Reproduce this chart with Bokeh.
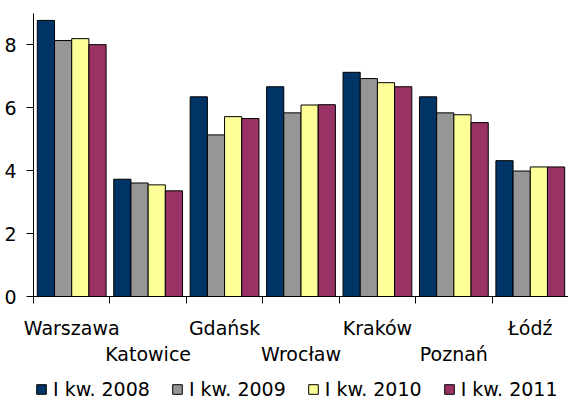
from bokeh.plotting import figure
from bokeh.layouts import column
from bokeh.models import (ColumnDataSource, Range1d, LinearAxis, FixedTicker,
                          Legend, LegendItem)
from bokeh.transform import dodge
from bokeh.embed import file_html
from bokeh.resources import INLINE

cities = ["Warszawa", "Katowice", "Gdańsk", "Wrocław", "Kraków", "Poznań", "Łódź"]
series = ["I kw. 2008", "I kw. 2009", "I kw. 2010", "I kw. 2011"]
v2008 = [8.78, 3.73, 6.35, 6.67, 7.13, 6.35, 4.32]
v2009 = [8.14, 3.61, 5.14, 5.84, 6.93, 5.84, 3.99]
v2010 = [8.20, 3.55, 5.72, 6.09, 6.80, 5.78, 4.12]
v2011 = [8.01, 3.36, 5.66, 6.10, 6.67, 5.53, 4.12]
y_ticks = [0, 2, 4, 6, 8]
colors = ["#003366", "#969696", "#FFFF99", "#993366"]

FONT = "DejaVu Sans"
FS = "19px"

n = len(cities)
pos = [i + 0.5 for i in range(n)]
src = ColumnDataSource(dict(x=pos, a=v2008, b=v2009, c=v2010, d=v2011))

p = figure(width=568, height=367, x_range=Range1d(0, n), y_range=Range1d(0, 9),
           output_backend="svg", toolbar_location=None, x_axis_type=None,
           min_border_left=33, min_border_right=0, min_border_top=13,
           min_border_bottom=0)
p.outline_line_color = None
p.xgrid.visible = False
p.ygrid.visible = False

# y axis
yax = p.yaxis[0]
yax.ticker = FixedTicker(ticks=y_ticks, minor_ticks=[])
yax.major_tick_out = 7
yax.major_tick_in = 0
yax.minor_tick_out = 0
yax.minor_tick_in = 0
yax.axis_line_color = "black"
yax.major_tick_line_color = "black"
yax.major_label_text_font = FONT
yax.major_label_text_font_size = FS
yax.major_label_text_color = "black"
yax.major_label_standoff = 10

# bars
bw = 0.225
offs = [-0.3375, -0.1125, 0.1125, 0.3375]
for col, off, c in zip(["a", "b", "c", "d"], offs, colors):
    p.vbar(x=dodge("x", off, range=p.x_range), top=col, bottom=0, width=bw,
           source=src, fill_color=c, line_color="black", line_width=1)

# x axis: row 1 labels + boundary ticks
odd_idx = list(range(0, n, 2))
even_idx = list(range(1, n, 2))
axA = LinearAxis(ticker=FixedTicker(ticks=[pos[i] for i in odd_idx],
                                    minor_ticks=list(range(n + 1))))
axA.major_label_overrides = {pos[i]: cities[i] for i in odd_idx}
axA.major_tick_out = 0
axA.major_tick_in = 0
axA.minor_tick_out = 7
axA.minor_tick_in = 0
axA.minor_tick_line_color = "black"
axA.axis_line_color = "black"
axA.major_label_text_font = FONT
axA.major_label_text_font_size = FS
axA.major_label_text_color = "black"
axA.major_label_standoff = 13
p.add_layout(axA, "below")

axB = LinearAxis(ticker=FixedTicker(ticks=[pos[i] for i in even_idx], minor_ticks=[]))
axB.major_label_overrides = {pos[i]: cities[i] for i in even_idx}
axB.major_tick_out = 0
axB.major_tick_in = 0
axB.minor_tick_out = 0
axB.minor_tick_in = 0
axB.axis_line_color = None
axB.major_label_text_font = FONT
axB.major_label_text_font_size = FS
axB.major_label_text_color = "black"
axB.major_label_standoff = 1
p.add_layout(axB, "below")

# legend strip (proxy bars lie outside the visible range; only their styles feed the legend)
p2 = figure(width=568, height=33, x_range=Range1d(0, 1), y_range=Range1d(0, 1),
            output_backend="svg", toolbar_location=None, x_axis_type=None,
            y_axis_type=None, min_border=0)
p2.outline_line_color = None
p2.xgrid.visible = False
p2.ygrid.visible = False
leg_renderers = []
for c in colors:
    r = p2.vbar(x=[5], top=[1], width=0.1, fill_color=c, line_color="black", line_width=1)
    leg_renderers.append(r)
legend = Legend(items=[LegendItem(label=s, renderers=[r]) for s, r in zip(series, leg_renderers)],
                orientation="horizontal", glyph_width=12, glyph_height=12,
                label_standoff=6, spacing=21, label_text_font=FONT,
                label_text_font_size=FS, label_text_color="black",
                border_line_color=None, background_fill_alpha=0,
                padding=0, margin=0, location=(2, 0))
p2.add_layout(legend, "center")

layout = column(p, p2, spacing=0)
open("out.html", "w").write(file_html(layout, INLINE))
